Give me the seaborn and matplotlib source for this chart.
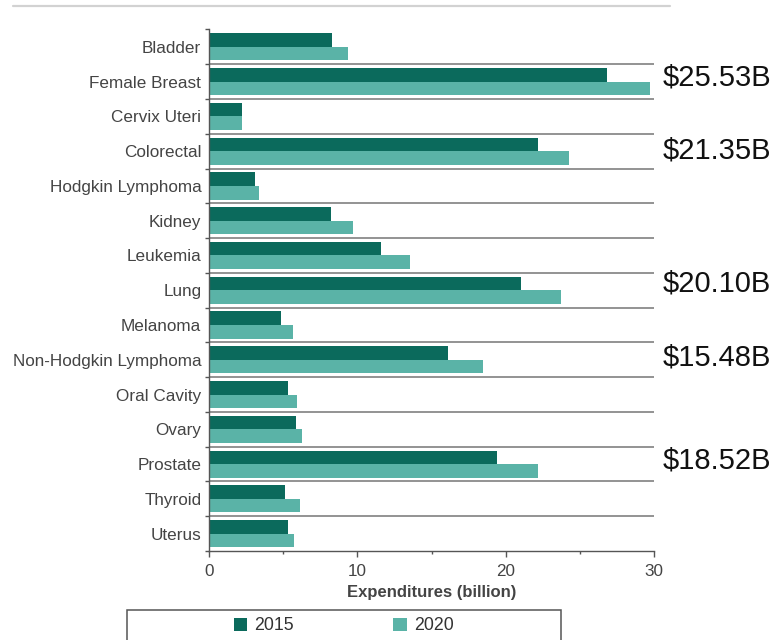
import numpy as np
import pandas as pd
import matplotlib
matplotlib.use("Agg")
import matplotlib.pyplot as plt
from matplotlib.patches import Patch, Rectangle
from matplotlib.lines import Line2D
import seaborn as sns

# Cancer care expenditures by site, in billions of dollars
sites = ["Bladder", "Female Breast", "Cervix Uteri", "Colorectal",
         "Hodgkin Lymphoma", "Kidney", "Leukemia", "Lung", "Melanoma",
         "Non-Hodgkin Lymphoma", "Oral Cavity", "Ovary", "Prostate",
         "Thyroid", "Uterus"]
years = ["2015", "2020"]
spend_2015 = [8.3, 26.8, 2.2, 22.2, 3.1, 8.2, 11.6, 21.0, 4.85, 16.1,
              5.35, 5.85, 19.4, 5.15, 5.3]
spend_2020 = [9.4, 29.7, 2.25, 24.3, 3.4, 9.7, 13.55, 23.7, 5.65, 18.5,
              5.95, 6.3, 22.2, 6.15, 5.75]

# Call-out figures shown to the right of selected sites
callout_sites = ["Female Breast", "Colorectal", "Lung",
                 "Non-Hodgkin Lymphoma", "Prostate"]
callout_text = ["$25.53B", "$21.35B", "$20.10B", "$15.48B", "$18.52B"]
callout_nudge = [-0.11, -0.03, -0.19, -0.08, -0.10]  # vertical shift, in rows

DARK = "#0b6a5c"
LIGHT = "#5ab3a7"
AXIS = "#555555"
TEXT = "#444444"

sns.set_theme(style="white")
plt.rcParams["font.family"] = ["Liberation Sans", "DejaVu Sans"]

df = pd.DataFrame({
    "site": sites * len(years),
    "year": [years[0]] * len(sites) + [years[1]] * len(sites),
    "value": spend_2015 + spend_2020,
})

fig = plt.figure(figsize=(7.77, 6.4), dpi=100)
W, H = 777, 640
ax = fig.add_axes([209 / W, 1 - 551 / H, (654 - 209) / W, (551 - 29.5) / H])

sns.barplot(data=df, x="value", y="site", hue="year", orient="h",
            order=sites, hue_order=years, palette=[DARK, LIGHT],
            saturation=1, width=0.78, gap=0, linewidth=0, edgecolor="none",
            legend=False, ax=ax, zorder=2)

ax.set_xlim(0, 30)
ax.set_ylim(len(sites) - 0.5, -0.5)

# Separators between category rows
ax.hlines(np.arange(len(sites) - 1) + 0.5, 0, 30, color="#8a8a8a",
          lw=1.3, zorder=1)

for side in ("top", "right"):
    ax.spines[side].set_visible(False)
for side in ("left", "bottom"):
    ax.spines[side].set_color(AXIS)
    ax.spines[side].set_linewidth(1.0)

ax.set_ylabel("")
ax.set_yticks(np.arange(len(sites)))
ax.set_yticklabels(sites)
ax.set_yticks(np.arange(len(sites) + 1) - 0.5, minor=True)
ax.tick_params(axis="y", which="major", length=0, pad=5.5,
               labelsize=12.3, labelcolor=TEXT)
ax.tick_params(axis="y", which="minor", length=3, width=1.0,
               color=AXIS, left=True)

ax.set_xticks([0, 10, 20, 30])
ax.set_xticks([5, 15, 25], minor=True)
ax.tick_params(axis="x", which="major", length=4, width=1.0, color=AXIS,
               pad=5, labelsize=12.3, labelcolor=TEXT, bottom=True)
ax.tick_params(axis="x", which="minor", length=2, width=1.0, color=AXIS,
               bottom=True)
ax.set_xlabel("Expenditures (billion)", fontsize=12, fontweight="bold",
              color=TEXT, labelpad=5)

# Call-out labels beside the axis
row_of = {s: i for i, s in enumerate(sites)}
for site, label, nudge in zip(callout_sites, callout_text, callout_nudge):
    ax.annotate(label, xy=(1.0, row_of[site] + nudge),
                xycoords=ax.get_yaxis_transform(),
                xytext=(6, 0), textcoords="offset points",
                ha="left", va="center", fontsize=21, color="#111111",
                annotation_clip=False)

# Legend with a separate frame
handles = [Patch(facecolor=DARK, edgecolor="none", label=years[0]),
           Patch(facecolor=LIGHT, edgecolor="none", label=years[1])]
fig.legend(handles=handles, loc="center", ncol=2,
           bbox_to_anchor=(343.7 / W, 1 - 626 / H), frameon=False,
           fontsize=12.8, handlelength=0.77, handleheight=0.7,
           handletextpad=0.38, columnspacing=5.6, labelcolor="#333333",
           borderpad=0, borderaxespad=0)
fig.add_artist(Rectangle((126.7 / W, -0.05), (560.7 - 126.7) / W,
                         1 - 610 / H + 0.05, transform=fig.transFigure,
                         facecolor="none", edgecolor=AXIS, lw=1.1))

# Rule across the top of the page
fig.add_artist(Line2D([13 / W, 670 / W], [1 - 6 / H, 1 - 6 / H],
                      transform=fig.transFigure, color="#d2d2d2", lw=1.6))

fig.savefig("out.png", dpi=100)
